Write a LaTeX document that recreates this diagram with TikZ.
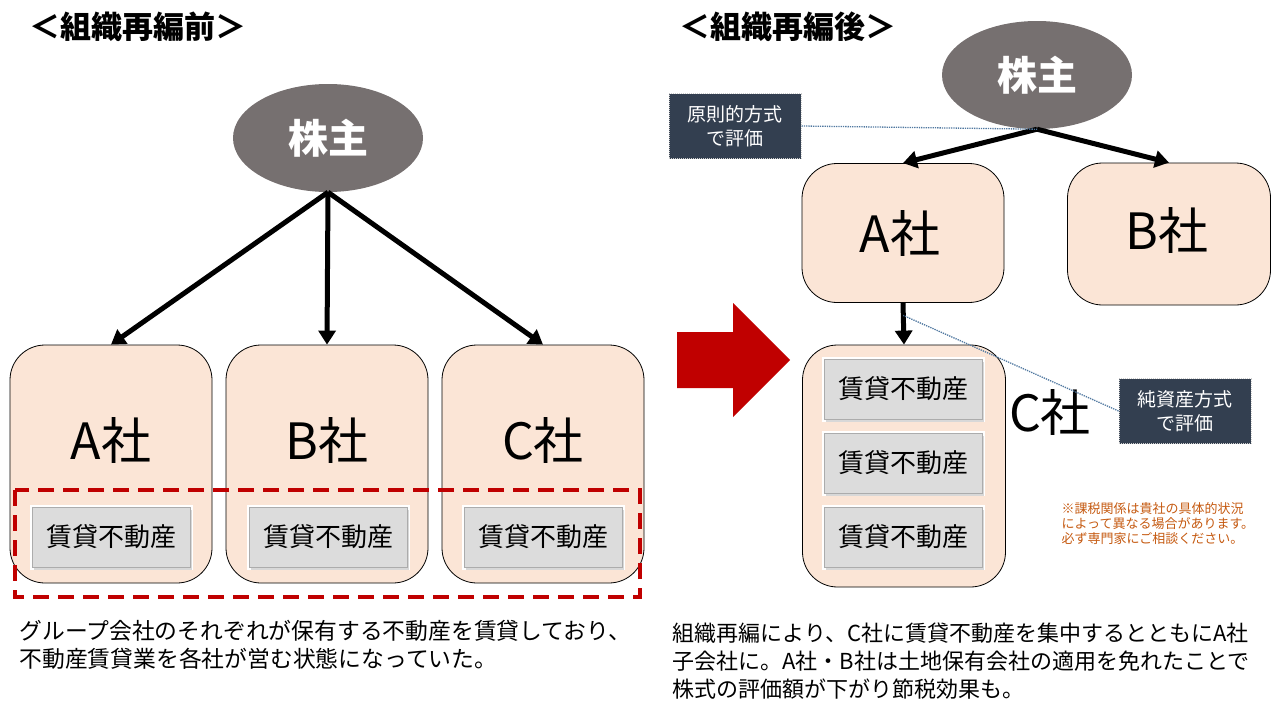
\documentclass[tikz,border=0pt]{standalone}
\usepackage{fontspec}
\setmainfont{Noto Sans CJK JP}
\usetikzlibrary{arrows.meta,shapes.geometric,shadows}
\definecolor{peach}{RGB}{251,229,214}
\definecolor{holdergray}{RGB}{118,112,112}
\definecolor{navy}{RGB}{51,63,80}
\definecolor{deepred}{RGB}{192,0,0}
\definecolor{dotblue}{RGB}{80,120,160}
\definecolor{notebrown}{RGB}{197,90,17}
\definecolor{rentgray}{RGB}{220,220,220}
\begin{document}
\begin{tikzpicture}
  [x=1pt,y=-1pt,
   holder/.style={ellipse,fill=holdergray,text=white,minimum width=190,minimum height=108,
     font=\bfseries\fontsize{40}{44}\selectfont},
   firm/.style={draw=black,fill=peach,rounded corners=35pt,line width=0.8pt},
   rent/.style={preaction={draw=white,line width=5pt},draw=gray!65,line width=0.9pt,fill=rentgray,
     minimum width=158,minimum height=60,font=\fontsize{26}{30}\selectfont,
     drop shadow={opacity=.3,shadow xshift=1.5pt,shadow yshift=-2.5pt}},
   big/.style={font=\fontsize{50}{56}\selectfont},
   memo/.style={fill=navy,draw=gray!40,densely dotted,line width=1pt,text=white,align=center,
     minimum width=132,minimum height=65,font=\fontsize{19}{24}\selectfont},
   tie/.style={line width=5pt,-{Triangle[length=14pt,width=17pt]}},
   link/.style={dotblue,densely dotted,line width=1.3pt}]
\useasboundingbox (0,0) rectangle (1280,720);

% before
\node (t1)[font=\bfseries\fontsize{31}{36}\selectfont] at (138,27) {＜組織再編前＞};
\node (sh1)[holder] at (328,138) {株主};
\node (a1)[firm,minimum width=202,minimum height=238] at (111,464) {};
\node (b1)[firm,minimum width=202,minimum height=238] at (327,464) {};
\node (c1)[firm,minimum width=202,minimum height=238] at (543,464) {};
\node (la1)[big] at (111,440) {A社};
\node (lb1)[big] at (327,440) {B社};
\node (lc1)[big] at (543,440) {C社};
\node (ra1)[rent] at (111,537) {賃貸不動産};
\node (rb1)[rent] at (328,537) {賃貸不動産};
\node (rc1)[rent] at (543,537) {賃貸不動産};
\draw[deepred,line width=3.5pt,dash pattern=on 16pt off 9pt] (15,490) rectangle (640,597);
\draw[tie] (sh1.south) -- (a1.north);
\draw[tie] (sh1.south) -- (b1.north);
\draw[tie] (sh1.south) -- (c1.north);
\node (txt1)[anchor=north west,align=left,font=\fontsize{22.8}{28}\selectfont] at (16,617)
  {グループ会社のそれぞれが保有する不動産を賃貸しており、\\不動産賃貸業を各社が営む状態になっていた。};

% arrow
\fill[deepred] (677,332) -- (733,332) -- (733,303) -- (790,360) -- (733,417) -- (733,388) -- (677,388) -- cycle;

% after
\node (t2)[font=\bfseries\fontsize{31}{36}\selectfont] at (788,27) {＜組織再編後＞};
\node (sh2)[holder] at (1037,75) {株主};
\node (a2)[firm,minimum width=202,minimum height=139] at (903,233) {};
\node (b2)[firm,minimum width=203,minimum height=142] at (1169,234) {};
\node (c2)[firm,minimum width=203,minimum height=242] at (904,466) {};
\node (la2)[big] at (900,233) {A社};
\node (lb2)[big] at (1167,230) {B社};
\node (lc2)[big] at (1050,412) {C社};
\node (r1)[rent] at (903,389) {賃貸不動産};
\node (r2)[rent] at (903,463) {賃貸不動産};
\node (r3)[rent] at (903,537) {賃貸不動産};
\draw[tie] (sh2.south) -- (a2.north);
\draw[tie] (sh2.south) -- (b2.north);
\draw[tie] (a2.south) -- (c2.north) coordinate[pos=.3] (m);
\node (k1)[memo] at (735,126) {原則的方式\\で評価};
\node (k2)[memo] at (1185,411) {純資産方式\\で評価};
\draw[link] (k1.east) -- (sh2.south);
\draw[link] (k2.west) -- (m);
\node (nt)[anchor=north west,align=left,text=notebrown,font=\fontsize{13}{15}\selectfont] at (1058,499)
  {※課税関係は貴社の具体的状況\\によって異なる場合があります。\\必ず専門家にご相談ください。};
\node (txt2)[anchor=north west,align=left,font=\fontsize{22}{28}\selectfont] at (669,619)
  {組織再編により、C社に賃貸不動産を集中するとともにA社\\子会社に。A社・B社は土地保有会社の適用を免れたことで\\株式の評価額が下がり節税効果も。};
\end{tikzpicture}
\end{document}
